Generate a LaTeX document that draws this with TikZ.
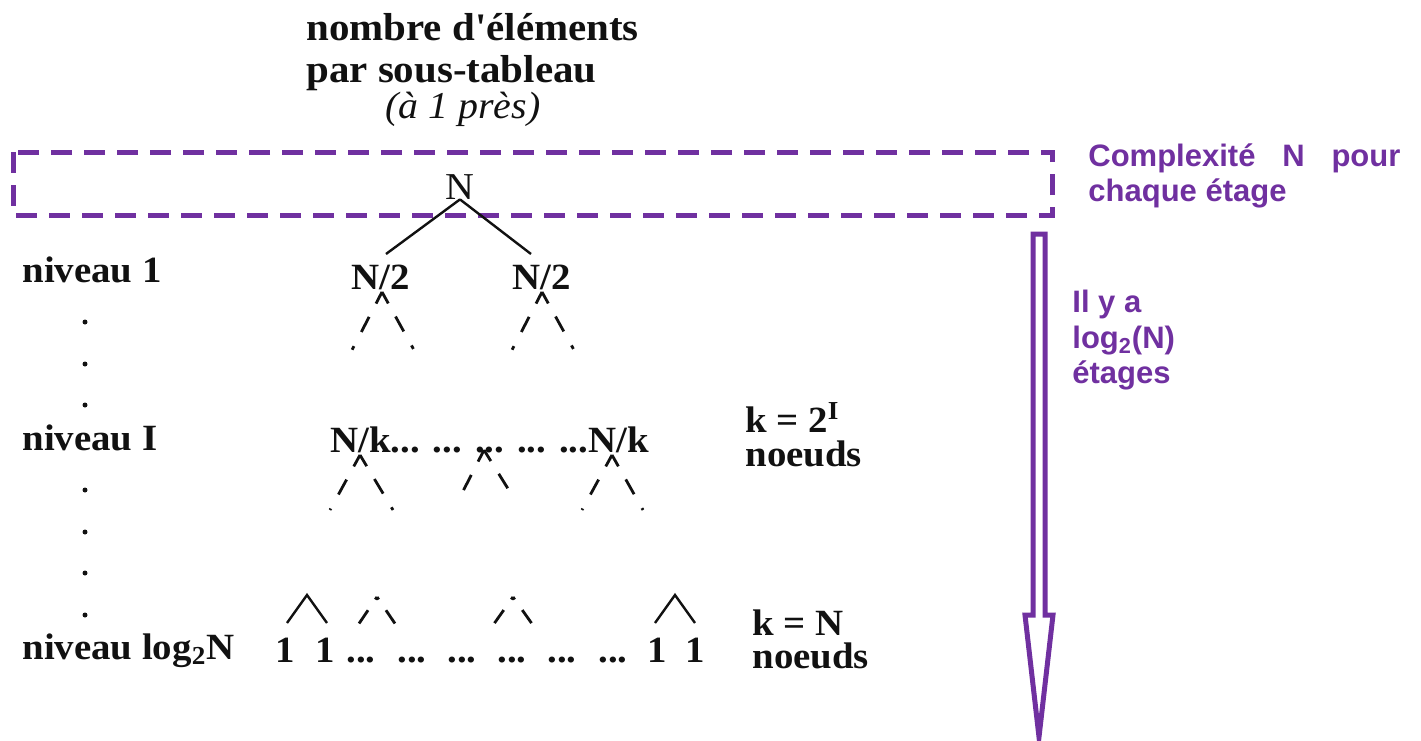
\documentclass[tikz,border=0pt]{standalone}
\usepackage{fontspec}
\usetikzlibrary{calc}
\newfontfamily\tms{Liberation Serif}[FakeStretch=1.05]
\newfontfamily\arl{Liberation Sans}
\definecolor{violetc}{HTML}{7030A0}
\definecolor{inkc}{HTML}{111111}
\begin{document}
\begin{tikzpicture}[x=0.5pt,y=-0.5pt,
  txt/.style={inner sep=0pt,anchor=base west,text=inkc,font=\tms\bfseries\fontsize{18.5pt}{21pt}\selectfont},
  txtc/.style={txt,anchor=base},
  hdr/.style={txt,font=\tms\bfseries\fontsize{19.5pt}{21pt}\selectfont},
  pair/.style={txt,font=\tms\bfseries\fontsize{18.5pt}{#1}\selectfont},
  txtreg/.style={inner sep=0pt,anchor=base,text=inkc,font=\tms\fontsize{19pt}{21pt}\selectfont},
  txtit/.style={inner sep=0pt,anchor=base west,text=inkc,font=\tms\itshape\fontsize{19pt}{21pt}\selectfont},
  ptxt/.style={inner sep=0pt,anchor=base west,text=violetc,font=\arl\bfseries\fontsize{15.5pt}{18pt}\selectfont},
  tree/.style={draw=inkc,line width=1.2pt},
  branchd/.style={draw=inkc,line width=1.4pt,dash pattern=on 6.5pt off 7.5pt on 8.5pt off 8pt on 2pt},
  branchs/.style={draw=inkc,line width=1.4pt,dash pattern=on 1.5pt off 6.5pt on 8pt off 20pt},
  boxd/.style={draw=violetc,line width=2.5pt,dash pattern=on 10.5pt off 6pt},
  bigarrow/.style={draw=violetc,line width=2.5pt,fill=white,miter limit=20},
  dotc/.style={fill=inkc}
]
\useasboundingbox (0,0) rectangle (1421,740);

% header
\node[hdr] (h1) at (306,40) {nombre d'éléments};
\node[hdr] (h2) at (306,82) {par sous-tableau};
\node[txtit] (h3) at (385,118) {(à 1 près)};

% dashed frame and right note
\draw[boxd] (13,152) rectangle (1052,215);
\node[ptxt] (c1) at (1088,166) {\makebox[156pt][s]{Complexité N pour}};
\node[ptxt] (c2) at (1088,201) {chaque étage};

% big arrow
\draw[bigarrow] (1033,234) -- (1045,234) -- (1045,615) -- (1053,615) -- (1039,737) -- (1025,615) -- (1033,615) -- cycle;
\node[ptxt] (e1) at (1072,312) {Il y a};
\node[ptxt] (e2) at (1072,348) {log\textsubscript{2}(N)};
\node[ptxt] (e3) at (1072,383) {étages};

% left labels
\node[txt] (l1) at (22,282) {niveau 1};
\node[txt] (l2) at (22,450) {niveau I};
\node[txt] (l3) at (22,659) {niveau log\textsubscript{2}N};
\foreach \yy in {322,364,405,490,532,573,615}
  \fill[dotc] (85,\yy) circle[radius=1.25pt];

% root
\node[txtreg] (r0) at (460,199) {N};
\node[txtc] (n1) at (381,289) {N/2};
\node[txtc] (n2) at (542,289) {N/2};
\coordinate (t1) at (386,254);
\coordinate (t2) at (531,254);
\draw[tree] (r0.south) -- (t1);
\draw[tree] (r0.south) -- (t2);

% level 1 branches
\coordinate (a1) at (382,292); \coordinate (a1l) at (352,350); \coordinate (a1r) at (414,350);
\coordinate (a2) at (542,292); \coordinate (a2l) at (512,350); \coordinate (a2r) at (574,350);
\draw[branchd] (a1) -- (a1l); \draw[branchd] (a1) -- (a1r);
\draw[branchd] (a2) -- (a2l); \draw[branchd] (a2) -- (a2r);

% level I
\node[txt] (nk) at (330,452) {N/k... ... ... ... ...N/k};
\node[pair=14pt] (k1) at (745,432) {\begin{tabular}[t]{@{}l@{}}k = 2\textsuperscript{I}\\noeuds\end{tabular}};
\coordinate (b1) at (360,455); \coordinate (b1l) at (330,510); \coordinate (b1r) at (393,510);
\coordinate (b2) at (484,450); \coordinate (b2l) at (457,503); \coordinate (b2r) at (515,500);
\coordinate (b3) at (612,455); \coordinate (b3l) at (582,510); \coordinate (b3r) at (643,510);
\draw[branchd] (b1) -- (b1l); \draw[branchd] (b1) -- (b1r);
\draw[branchd] (b2) -- (b2l); \draw[branchd] (b2) -- (b2r);
\draw[branchd] (b3) -- (b3l); \draw[branchd] (b3) -- (b3r);

% bottom level
\node[txt] (u1) at (275,662) {1};
\node[txt] (u2) at (315,662) {1};
\node[txt] (d1) at (346,662) {...};
\node[txt] (d2) at (397,662) {...};
\node[txt] (d3) at (447,662) {...};
\node[txt] (d4) at (497,662) {...};
\node[txt] (d5) at (547,662) {...};
\node[txt] (d6) at (598,662) {...};
\node[txt] (u3) at (647,662) {1};
\node[txt] (u4) at (685,662) {1};
\node[pair=13pt] (k2) at (752,635) {\begin{tabular}[t]{@{}l@{}}k = N\\noeuds\end{tabular}};
\coordinate (c1a) at (307,595); \coordinate (c1l) at (287,623); \coordinate (c1r) at (327,623);
\coordinate (c4a) at (675,595); \coordinate (c4l) at (655,623); \coordinate (c4r) at (695,623);
\draw[tree] (c1l) -- (c1a) -- (c1r);
\draw[tree] (c4l) -- (c4a) -- (c4r);
\coordinate (c2a) at (377,597); \coordinate (c2l) at (356,628); \coordinate (c2r) at (398,628);
\coordinate (c3a) at (513,597); \coordinate (c3l) at (491,628); \coordinate (c3r) at (535,628);
\draw[branchs] (c2a) -- (c2l); \draw[branchs] (c2a) -- (c2r);
\draw[branchs] (c3a) -- (c3l); \draw[branchs] (c3a) -- (c3r);
\end{tikzpicture}
\end{document}
